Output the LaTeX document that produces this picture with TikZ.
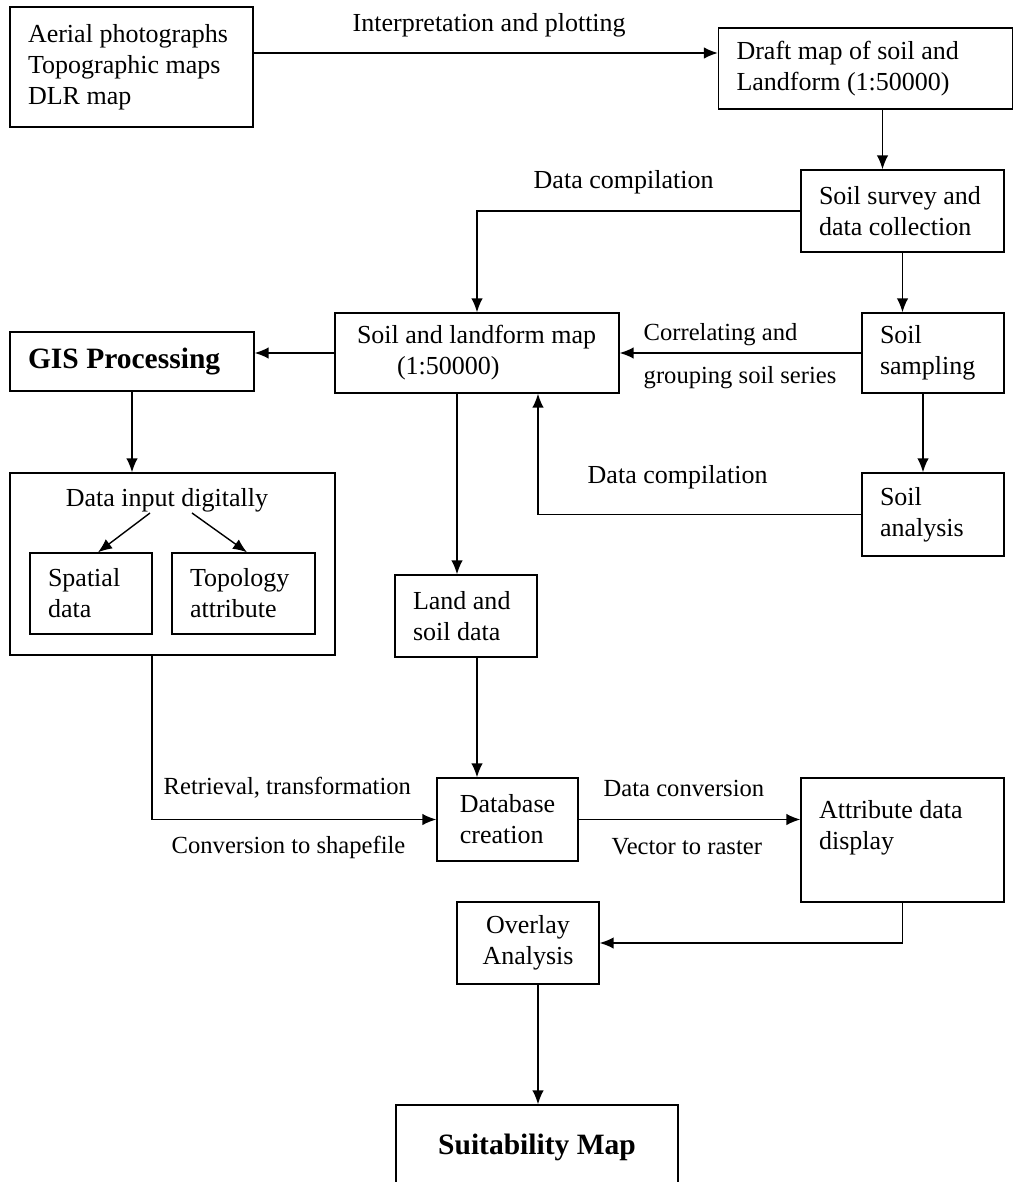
\documentclass[tikz,border=0pt]{standalone}
\usepackage{fontspec}
\setmainfont{Liberation Serif}
\usetikzlibrary{arrows.meta}

\begin{document}
\begin{tikzpicture}[x = 0.02cm, y = -0.02cm, line width = .8pt, >={Latex[length=2.8mm, width=2.3mm]},
  box/.style = {draw, inner sep = 0pt, font = \fontsize{14.8}{17.6}\selectfont},
  lbox/.style = {box, align = flush left, inner xsep = .36cm},
  lbl/.style = {inner sep = 0pt, anchor = west, font = \fontsize{14.8}{17.6}\selectfont},
  slbl/.style = {lbl, font = \fontsize{14}{16.8}\selectfont}]
\useasboundingbox (0,0) rectangle (1014,1182);
\node[lbox, text width = 4.14cm, minimum height = 2.4cm] (src) at (131.5,67) {Aerial photographs\\Topographic maps\\DLR map};
\node[lbox, text width = 5.16cm, minimum height = 1.62cm] (draft) at (865.5,68.5) {Draft map of soil and\\Landform (1:50000)};
\node[lbox, text width = 3.34cm, minimum height = 1.64cm] (survey) at (902.5,211) {Soil survey and\\data collection};
\node[lbox, text width = 4.8cm, inner xsep = .44cm, minimum height = 1.6cm] (soilmap) at (477,353) {Soil and landform map\\\hspace*{.8cm}(1:50000)};
\node[lbox, text width = 2.12cm, minimum height = 1.6cm] (sampling) at (933,353) {Soil\\sampling};
\node[lbox, text width = 2.12cm, minimum height = 1.66cm] (analysis) at (933,514.5) {Soil\\analysis};
\node[lbox, text width = 4.16cm, minimum height = 1.18cm, font = \fontsize{16.8}{20}\selectfont\bfseries] (gis) at (132,361.5) {GIS Processing};
\node[box, minimum width = 6.5cm, minimum height = 3.64cm] (datain) at (172.5,564) {};
\node[lbl, anchor = center] (dtitle) at (167,500) {Data input digitally};
\node[lbox, text width = 1.72cm, minimum height = 1.62cm] (spatial) at (91,593.5) {Spatial\\data};
\node[lbox, text width = 2.14cm, minimum height = 1.62cm] (topo) at (243.5,593.5) {Topology\\attribute};
\node[lbox, text width = 2.12cm, minimum height = 1.64cm] (land) at (466,616) {Land and\\soil data};
\node[box, align = flush left, minimum width = 2.82cm, minimum height = 1.66cm] (db) at (507.5,819.5) {Database\\creation};
\node[lbox, text width = 3.34cm, minimum height = 2.48cm] (attr) at (902.5,840) {Attribute data\\display\\\mbox{}};
\node[box, align = center, minimum width = 2.84cm, minimum height = 1.64cm] (overlay) at (528,943) {Overlay\\Analysis};
\node[box, minimum width = 5.64cm, minimum height = 1.7cm, font = \fontsize{16.8}{20}\selectfont\bfseries] (suit) at (537,1147.5) {Suitability Map};

\node[lbl] (interp) at (352,25) {Interpretation and plotting};
\node[lbl] (dcomp1) at (533,182) {Data compilation};
\node[slbl] (corr) at (643,335) {Correlating and};
\node[slbl] (group) at (643,378) {grouping soil series};
\node[lbl] (dcomp2) at (587,477) {Data compilation};
\node[slbl] (retr) at (163,788) {Retrieval, transformation};
\node[slbl] (conv) at (171,847) {Conversion to shapefile};
\node[slbl] (dconv) at (603,788) {Data conversion};
\node[slbl] (vect) at (611,847) {Vector to raster};

\draw[->] ([yshift=.28cm]src.east) -- ([yshift=.28cm]src.east -| draft.west);
\draw[->] ([xshift=.34cm]draft.south) -- ([xshift=.34cm]draft.south |- survey.north);
\draw[->] (survey.west) -| (soilmap.north);
\draw[->] (survey.south) -- (survey.south |- sampling.north);
\draw[->] (sampling.west) -- (soilmap.east);
\draw[->] ([xshift=-.2cm]sampling.south) -- ([xshift=-.2cm]sampling.south |- analysis.north);
\draw[->] (analysis.west) -| ([xshift=1.22cm]soilmap.south);
\draw[->] (soilmap.west) -- (soilmap.west -| gis.east);
\draw[->] (gis.south) -- (gis.south |- datain.north);
\draw[->] ([xshift=-.4cm]soilmap.south) -- ([xshift=-.4cm]soilmap.south |- land.north);
\draw[->] ([xshift=-.34cm, yshift=-.26cm]dtitle.center) -- ([xshift=.14cm]spatial.north);
\draw[->] ([xshift=.5cm, yshift=-.26cm]dtitle.center) -- ([xshift=.07cm]topo.north);
\draw[->] ([xshift=.22cm]land.south) -- ([xshift=.22cm]land.south |- db.north);
\draw[->] ([xshift=-.41cm]datain.south) |- (db.west);
\draw[->] (db.east) -- (db.east -| attr.west);
\draw[->] (attr.south) |- (overlay.east);
\draw[->] ([xshift=.2cm]overlay.south) -- ([xshift=.2cm]overlay.south |- suit.north);
\end{tikzpicture}
\end{document}
